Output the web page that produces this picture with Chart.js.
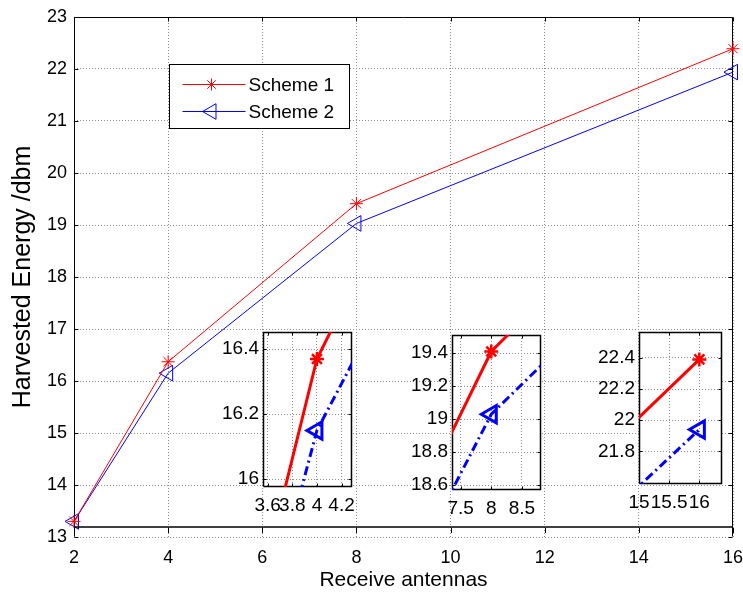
<!DOCTYPE html>
<html>
<head>
<meta charset="utf-8">
<title>Harvested Energy vs Receive antennas</title>
<script src="https://cdn.jsdelivr.net/npm/chart.js"></script>
<style>
  html, body { margin: 0; padding: 0; background: #fff; }
  #wrap { position: relative; width: 743px; height: 593px; overflow: hidden; }
  #wrap canvas { position: absolute; }
</style>
</head>
<body>
<div id="wrap">
  <canvas id="main" width="743" height="593" style="left:0;top:0;width:743px;height:593px"></canvas>
  <canvas id="inset1"></canvas>
  <canvas id="inset2"></canvas>
  <canvas id="inset3"></canvas>
</div>
<script>
// ---- data ----
const seriesNames = ['Scheme 1', 'Scheme 2'];
const antennas = [2, 4, 8, 16];
const scheme1 = [13.3, 16.37, 19.41, 22.39];
const scheme2 = [13.3, 16.15, 19.03, 21.94];

// stray black rule near the bottom of the main axes
const baseLineX = [2, 16];
const baseLineY = [13.2, 13.2];

// main axes ticks
const xTicks = [2, 4, 6, 8, 10, 12, 14, 16];
const yTicks = [13, 14, 15, 16, 17, 18, 19, 20, 21, 22, 23];

// zoomed insets: ticks and ranges
const inset1XTicks = [3.6, 3.8, 4, 4.2];
const inset1YTicks = [16, 16.2, 16.4];
const inset1XRange = [3.562, 4.285];
const inset1YRange = [15.976, 16.453];

const inset2XTicks = [7.5, 8, 8.5];
const inset2YTicks = [18.6, 18.8, 19, 19.2, 19.4];
const inset2XRange = [7.36, 8.81];
const inset2YRange = [18.571, 19.51];

const inset3XTicks = [15, 15.5, 16];
const inset3YTicks = [21.8, 22, 22.2, 22.4];
const inset3XRange = [15.0, 16.375];
const inset3YRange = [21.59, 22.566];

// ---- shared bits ----
Chart.defaults.font.family = '"Liberation Sans", Arial, Helvetica, sans-serif';
Chart.defaults.color = '#000';

const RED = '#ff0000';
const BLUE = '#0000ff';
const GRID = '#8c8c8c';

const pts = (xs, ys) => xs.map((x, i) => ({ x, y: ys[i] }));
const fmt = v => String(Math.round(v * 100) / 100);

// black box round the axes plus MATLAB style inward ticks
const frame = {
  id: 'frame',
  beforeDraw(chart, args, o) {
    if (!o.fill) return;
    const a = chart.chartArea;
    chart.ctx.save();
    chart.ctx.fillStyle = o.fill;
    chart.ctx.fillRect(a.left, a.top, a.right - a.left, a.bottom - a.top);
    chart.ctx.restore();
  },
  beforeDatasetsDraw(chart, args, o) {
    const { ctx, chartArea: a, scales: { x, y } } = chart;
    const L = Math.round(a.left) + 0.5, R = Math.round(a.right) - 0.5;
    const T = Math.round(a.top) + 0.5, B = Math.round(a.bottom) - 0.5;
    const len = o.tickLen || 4;
    ctx.save();
    ctx.strokeStyle = '#000';
    ctx.lineWidth = o.width || 1;
    ctx.beginPath();
    ctx.moveTo(L, B); ctx.lineTo(L, T); ctx.lineTo(R, T); ctx.lineTo(R, B);
    if (o.bottom !== false) ctx.lineTo(L, B);
    ctx.stroke();

    ctx.lineWidth = 1;
    ctx.beginPath();
    const hang = o.bottomTickAt != null;
    const bottomFrom = hang ? Math.round(y.getPixelForValue(o.bottomTickAt)) + 1 : B;
    x.ticks.forEach(t => {
      const px = Math.round(x.getPixelForValue(t.value)) + 0.5;
      ctx.moveTo(px, T); ctx.lineTo(px, T + len);
      ctx.moveTo(px, bottomFrom); ctx.lineTo(px, bottomFrom + (hang ? len + 1 : -len));
    });
    y.ticks.forEach(t => {
      const py = Math.round(y.getPixelForValue(t.value)) + 0.5;
      ctx.moveTo(L, py); ctx.lineTo(L + len, py);
      ctx.moveTo(R, py); ctx.lineTo(R - len, py);
    });
    ctx.stroke();
    ctx.restore();
  },
  afterDatasetsDraw(chart, args, o) {
    // extra rule across the axes (main chart only)
    if (!o.ruleX || !o.ruleY) return;
    const { ctx, scales: { x, y } } = chart;
    const ry = Math.round(y.getPixelForValue(o.ruleY[0]));
    ctx.save();
    ctx.strokeStyle = '#000';
    ctx.lineWidth = 1.5;
    ctx.beginPath();
    ctx.moveTo(x.getPixelForValue(o.ruleX[0]), ry);
    ctx.lineTo(x.getPixelForValue(o.ruleX[1]), ry);
    ctx.stroke();
    ctx.restore();
  }
};

// boxed legend inside the main axes
const legendBox = {
  id: 'legendBox',
  afterDatasetsDraw(chart, args, o) {
    if (!o.items) return;
    const { ctx, chartArea: a } = chart;
    const bx = Math.round(a.left + o.dx) + 0.5, by = Math.round(a.top + o.dy) + 0.5;
    ctx.save();
    ctx.fillStyle = '#fff';
    ctx.fillRect(bx, by, o.w, o.h);
    ctx.strokeStyle = '#000';
    ctx.lineWidth = 1;
    ctx.strokeRect(bx, by, o.w, o.h);
    o.items.forEach((it, i) => {
      const cy = Math.round(by + o.firstRow + i * o.rowGap) + 0.5;
      ctx.strokeStyle = it.color;
      ctx.lineWidth = 1;
      ctx.beginPath();
      ctx.moveTo(bx + 13, cy); ctx.lineTo(bx + 76, cy);
      ctx.stroke();
      ctx.fillStyle = 'rgba(0,0,0,0)';
      Chart.helpers.drawPoint(ctx, {
        pointStyle: it.style, radius: it.radius, rotation: it.rotation || 0, borderWidth: 1
      }, bx + 42, cy);
      ctx.fillStyle = '#000';
      ctx.font = '19px "Liberation Sans", Arial, sans-serif';
      ctx.textBaseline = 'middle';
      ctx.fillText(it.label, bx + 79, cy + 1);
    });
    ctx.restore();
  }
};

// ---- main chart ----
new Chart(document.getElementById('main'), {
  type: 'line',
  data: {
    datasets: [
      {
        label: seriesNames[0],
        data: pts(antennas, scheme1),
        borderColor: RED, borderWidth: 1,
        pointStyle: 'star', pointRadius: 6.5,
        pointBorderColor: RED, pointBorderWidth: 1,
        clip: false
      },
      {
        label: seriesNames[1],
        data: pts(antennas, scheme2),
        borderColor: BLUE, borderWidth: 1,
        pointStyle: 'triangle', pointRotation: -90, pointRadius: 9,
        pointBackgroundColor: 'rgba(0,0,0,0)',
        pointBorderColor: BLUE, pointBorderWidth: 1,
        clip: false
      }
    ]
  },
  options: {
    responsive: false,
    animation: false,
    events: [],
    layout: { padding: { top: 17, right: 7, left: 0, bottom: 0 } },
    plugins: {
      legend: { display: false },
      tooltip: { enabled: false },
      frame: { bottom: false, tickLen: 4, bottomTickAt: baseLineY[0], ruleX: baseLineX, ruleY: baseLineY },
      legendBox: {
        dx: 95, dy: 47, w: 180, h: 64, firstRow: 19, rowGap: 27,
        items: [
          { label: seriesNames[0], color: RED, style: 'star', radius: 6 },
          { label: seriesNames[1], color: BLUE, style: 'triangle', radius: 9, rotation: -90 }
        ]
      }
    },
    scales: {
      x: {
        type: 'linear', min: 2, max: 16,
        afterBuildTicks: s => { s.ticks = xTicks.map(v => ({ value: v })); },
        afterFit: s => { s.height = 56; s.paddingLeft = 0; s.paddingRight = 0; },
        grid: { color: GRID, drawTicks: false },
        border: { display: false, dash: [1, 2] },
        ticks: { padding: 10, font: { size: 18 }, maxRotation: 0, autoSkip: false, callback: fmt },
        title: {
          display: true, text: 'Receive antennas',
          font: { size: 21 }, padding: { top: 0, bottom: 0 }
        }
      },
      y: {
        type: 'linear', min: 13, max: 23,
        afterBuildTicks: s => { s.ticks = yTicks.map(v => ({ value: v })); },
        afterFit: s => { s.width = 74; s.paddingTop = 0; s.paddingBottom = 0; },
        grid: { color: GRID, drawTicks: false },
        border: { display: false, dash: [1, 2] },
        ticks: { padding: 7, font: { size: 18 }, autoSkip: false, callback: fmt },
        title: {
          display: true, text: 'Harvested Energy /dbm',
          font: { size: 25 }, padding: { top: 8, bottom: 0 }
        }
      }
    }
  },
  plugins: [frame, legendBox]
});

// ---- insets ----
function makeInset(id, box, xRange, yRange, xt, yt) {
  const m = { l: 56, t: 6, r: 8, b: 34 };
  const cv = document.getElementById(id);
  cv.width = box.w + m.l + m.r;
  cv.height = box.h + m.t + m.b;
  cv.style.width = cv.width + 'px';
  cv.style.height = cv.height + 'px';
  cv.style.left = (box.x - m.l) + 'px';
  cv.style.top = (box.y - m.t) + 'px';

  return new Chart(cv, {
    type: 'line',
    data: {
      datasets: [
        {
          label: seriesNames[0],
          data: pts(antennas, scheme1),
          borderColor: RED, borderWidth: 3,
          pointStyle: 'star', pointRadius: 7,
          pointBorderColor: RED, pointBorderWidth: 2.5,
          clip: 0
        },
        {
          label: seriesNames[1],
          data: pts(antennas, scheme2),
          borderColor: BLUE, borderWidth: 3, borderDash: [9, 4, 2, 4],
          pointStyle: 'triangle', pointRotation: -90, pointRadius: 10,
          pointBackgroundColor: 'rgba(0,0,0,0)',
          pointBorderColor: BLUE, pointBorderWidth: 3,
          clip: 0
        }
      ]
    },
    options: {
      responsive: false,
      animation: false,
      events: [],
      layout: { padding: { top: m.t, right: m.r, left: 0, bottom: 0 } },
      plugins: {
        legend: { display: false },
        tooltip: { enabled: false },
        frame: { fill: '#fff', tickLen: 3, width: 1.5 }
      },
      scales: {
        x: {
          type: 'linear', min: xRange[0], max: xRange[1],
          afterBuildTicks: s => { s.ticks = xt.map(v => ({ value: v })); },
          afterFit: s => { s.height = m.b; s.paddingLeft = 0; s.paddingRight = 0; },
          grid: { color: GRID, drawTicks: false },
          border: { display: false, dash: [1, 2] },
          ticks: { padding: 7, font: { size: 19 }, maxRotation: 0, autoSkip: false, callback: fmt }
        },
        y: {
          type: 'linear', min: yRange[0], max: yRange[1],
          afterBuildTicks: s => { s.ticks = yt.map(v => ({ value: v })); },
          afterFit: s => { s.width = m.l; s.paddingTop = 0; s.paddingBottom = 0; },
          grid: { color: GRID, drawTicks: false },
          border: { display: false, dash: [1, 2] },
          ticks: { padding: 4, font: { size: 19 }, autoSkip: false, callback: fmt }
        }
      }
    },
    plugins: [frame]
  });
}

makeInset('inset1', { x: 263, y: 325, w: 94, h: 162 }, inset1XRange, inset1YRange, inset1XTicks, inset1YTicks);
makeInset('inset2', { x: 452, y: 328, w: 94, h: 162 }, inset2XRange, inset2YRange, inset2XTicks, inset2YTicks);
makeInset('inset3', { x: 639, y: 325, w: 88, h: 159 }, inset3XRange, inset3YRange, inset3XTicks, inset3YTicks);
</script>
</body>
</html>
